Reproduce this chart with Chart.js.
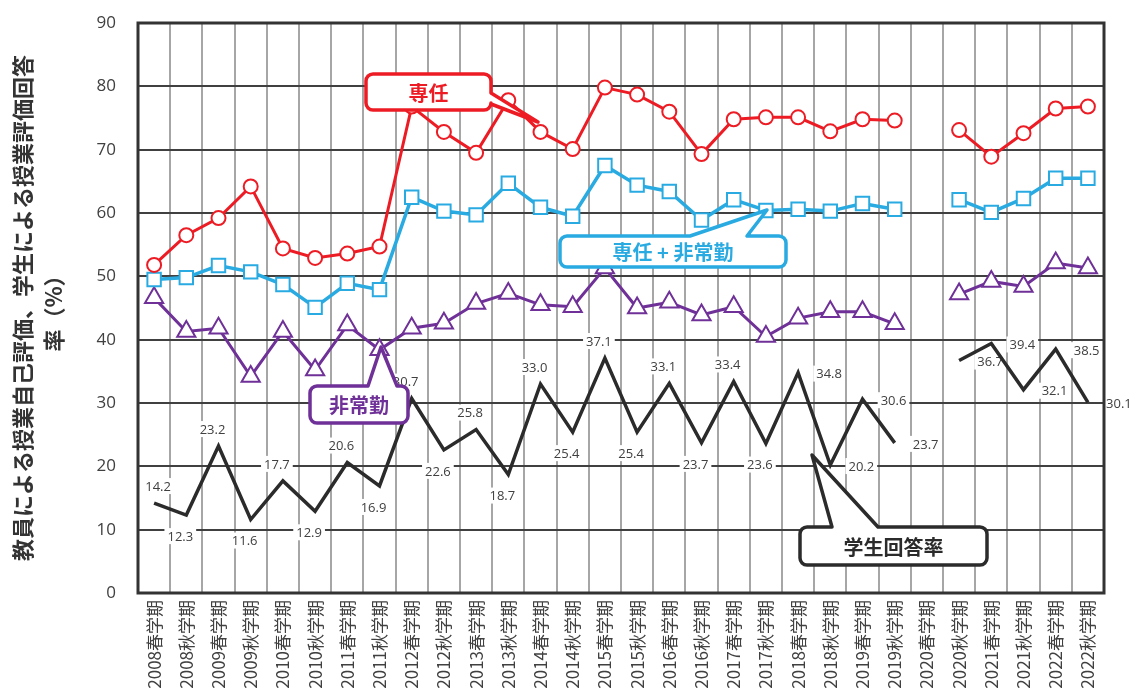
<!DOCTYPE html>
<html>
<head>
<meta charset="utf-8">
<script src="https://cdn.jsdelivr.net/npm/chart.js@4.4.1/dist/chart.umd.min.js"></script>
<style>
  html, body { margin: 0; padding: 0; background: #fff; }
  #wrap { width: 1133px; height: 697px; }
</style>
</head>
<body>
<div id="wrap"><canvas id="chart"></canvas></div>
<script>
const semesters = [
  "2008春学期", "2008秋学期", "2009春学期", "2009秋学期", "2010春学期", "2010秋学期",
  "2011春学期", "2011秋学期", "2012春学期", "2012秋学期", "2013春学期", "2013秋学期",
  "2014春学期", "2014秋学期", "2015春学期", "2015秋学期", "2016春学期", "2016秋学期",
  "2017春学期", "2017秋学期", "2018春学期", "2018秋学期", "2019春学期", "2019秋学期",
  "2020春学期", "2020秋学期", "2021春学期", "2021秋学期", "2022春学期", "2022秋学期"
];

// 専任
const fullTime = [51.8, 56.5, 59.2, 64.2, 54.4, 52.9, 53.6, 54.7, 76.8, 72.8, 69.5, 77.8,
  72.8, 70.1, 79.8, 78.7, 76.0, 69.3, 74.8, 75.1, 75.1, 72.9, 74.8, 74.6,
  null, 73.1, 68.9, 72.6, 76.5, 76.8];

// 専任 + 非常勤
const allTeachers = [49.5, 49.8, 51.7, 50.7, 48.7, 45.1, 48.9, 47.9, 62.5, 60.3, 59.7, 64.7,
  60.9, 59.5, 67.5, 64.4, 63.4, 58.9, 62.1, 60.4, 60.6, 60.3, 61.5, 60.6,
  null, 62.1, 60.1, 62.3, 65.5, 65.5];

// 非常勤
const partTime = [46.6, 41.3, 41.8, 34.2, 41.3, 35.2, 42.3, 38.4, 41.8, 42.6, 45.7, 47.3,
  45.5, 45.2, 51.3, 45.0, 45.9, 43.9, 45.2, 40.5, 43.4, 44.4, 44.4, 42.5,
  null, 47.2, 49.2, 48.4, 52.1, 51.3];

// 学生回答率
const studentRate = [14.2, 12.3, 23.2, 11.6, 17.7, 12.9, 20.6, 16.9, 30.7, 22.6, 25.8, 18.7,
  33.0, 25.4, 37.1, 25.4, 33.1, 23.7, 33.4, 23.6, 34.8, 20.2, 30.6, 23.7,
  null, 36.7, 39.4, 32.1, 38.5, 30.1];

const yTicks = [0, 10, 20, 30, 40, 50, 60, 70, 80, 90];

const RED = "#ed1c24";
const BLUE = "#29abe2";
const PURPLE = "#6f3198";
const BLACK = "#2b2b2b";
const JP = '"Noto Sans CJK JP", "Noto Sans", sans-serif';

// callout boxes, in reference pixel space (mapped onto the chart area when drawn)
const callouts = [
  { text: "専任", color: RED, box: [366, 74, 491, 110], side: "right", base: [93, 104], tip: [538, 122] },
  { text: "専任 + 非常勤", color: BLUE, box: [560, 236, 786, 267], side: "top", base: [690, 747], tip: [767, 210] },
  { text: "非常勤", color: PURPLE, box: [310, 386, 408, 423], side: "top", base: [368, 397], tip: [381, 347] },
  { text: "学生回答率", color: BLACK, box: [800, 527, 987, 565], side: "top", base: [832, 878], tip: [812, 455] }
];

const valueLabels = {
  id: "valueLabels",
  beforeDatasetsDraw(chart) {
    const meta = chart.getDatasetMeta(3);
    const ctx = chart.ctx;
    ctx.save();
    ctx.font = '13px "Open Sans", sans-serif';
    ctx.textAlign = "center";
    ctx.textBaseline = "middle";
    meta.data.forEach((pt, i) => {
      const v = studentRate[i];
      if (v == null) return;
      let dx = i === 0 ? 4 : -6, dy;
      if (i >= 20) { dx = 31; dy = 1; }
      else {
        const next = studentRate[i + 1];
        dy = (next == null || v > next) ? -17 : 21;
      }
      const txt = v.toFixed(1);
      const w = ctx.measureText(txt).width + 6;
      const x = pt.x + dx, y = pt.y + dy;
      ctx.fillStyle = "#fff";
      ctx.fillRect(x - w / 2, y - 8, w, 16);
      ctx.fillStyle = "#404040";
      ctx.fillText(txt, x, y + 1);
    });
    ctx.restore();
  }
};

function calloutPath(ctx, x0, y0, x1, y1, r, side, b1, b2, tx, ty) {
  ctx.beginPath();
  ctx.moveTo(x0 + r, y0);
  if (side === "top") { ctx.lineTo(b1, y0); ctx.lineTo(tx, ty); ctx.lineTo(b2, y0); }
  ctx.lineTo(x1 - r, y0);
  ctx.arcTo(x1, y0, x1, y0 + r, r);
  if (side === "right") { ctx.lineTo(x1, b1); ctx.lineTo(tx, ty); ctx.lineTo(x1, b2); }
  ctx.lineTo(x1, y1 - r);
  ctx.arcTo(x1, y1, x1 - r, y1, r);
  ctx.lineTo(x0 + r, y1);
  ctx.arcTo(x0, y1, x0, y1 - r, r);
  ctx.lineTo(x0, y0 + r);
  ctx.arcTo(x0, y0, x0 + r, y0, r);
  ctx.closePath();
}

const frameAndCallouts = {
  id: "frameAndCallouts",
  afterDatasetsDraw(chart) {
    const { ctx, chartArea: a } = chart;
    const X = px => a.left + (px - 138) * a.width / 966;
    const Y = py => a.top + (py - 23) * a.height / 570;
    ctx.save();
    ctx.strokeStyle = "#333";
    ctx.lineWidth = 3;
    ctx.strokeRect(a.left, a.top, a.width, a.height);

    ctx.lineJoin = "round";
    callouts.forEach(c => {
      const [x0, y0, x1, y1] = c.box;
      const b = c.side === "top" ? c.base.map(X) : c.base.map(Y);
      calloutPath(ctx, X(x0), Y(y0), X(x1), Y(y1), 7, c.side, b[0], b[1], X(c.tip[0]), Y(c.tip[1]));
      ctx.fillStyle = "#fff";
      ctx.fill();
      ctx.strokeStyle = c.color;
      ctx.lineWidth = 3.5;
      ctx.stroke();
      ctx.fillStyle = c.color;
      ctx.font = "bold 20px " + JP;
      ctx.textAlign = "center";
      ctx.textBaseline = "middle";
      ctx.fillText(c.text, (X(x0) + X(x1)) / 2, (Y(y0) + Y(y1)) / 2 + 1);
    });
    ctx.restore();
  }
};

new Chart(document.getElementById("chart"), {
  type: "line",
  data: {
    labels: semesters,
    datasets: [
      {
        label: "専任",
        data: fullTime,
        borderColor: RED,
        borderWidth: 3,
        pointStyle: "circle",
        pointRadius: 7,
        pointBorderWidth: 2,
        pointBorderColor: RED,
        pointBackgroundColor: "#fff"
      },
      {
        label: "専任 + 非常勤",
        data: allTeachers,
        borderColor: BLUE,
        borderWidth: 3.5,
        pointStyle: "rect",
        pointRadius: 9.5,
        pointBorderWidth: 2,
        pointBorderColor: BLUE,
        pointBackgroundColor: "#fff"
      },
      {
        label: "非常勤",
        data: partTime,
        borderColor: PURPLE,
        borderWidth: 3,
        pointStyle: "triangle",
        pointRadius: 10.5,
        pointBorderWidth: 2,
        pointBorderColor: PURPLE,
        pointBackgroundColor: "#fff"
      },
      {
        label: "学生回答率",
        data: studentRate,
        borderColor: BLACK,
        borderWidth: 3.5,
        pointRadius: 0
      }
    ]
  },
  options: {
    responsive: true,
    maintainAspectRatio: false,
    animation: false,
    spanGaps: false,
    layout: { padding: { top: 23, right: 29, left: 0, bottom: 0 } },
    plugins: {
      legend: { display: false },
      tooltip: { enabled: false }
    },
    scales: {
      x: {
        offset: true,
        grid: { offset: true, color: "#a6a6a6", lineWidth: 2, drawTicks: false },
        border: { display: false },
        ticks: {
          autoSkip: false,
          minRotation: 90,
          maxRotation: 90,
          padding: 7,
          color: "#404040",
          font: { family: JP, size: 17 }
        },
        afterFit: s => { s.height = 104; s.paddingLeft = 0; s.paddingRight = 0; }
      },
      y: {
        min: 0,
        max: 90,
        afterBuildTicks: s => { s.ticks = yTicks.map(v => ({ value: v })); },
        grid: { color: "#404040", lineWidth: 2, drawTicks: false },
        border: { display: false },
        ticks: {
          padding: 22,
          color: "#404040",
          font: { family: '"Open Sans", sans-serif', size: 17 }
        },
        title: {
          display: true,
          text: ["教員による授業自己評価、学生による授業評価回答", "率（%）"],
          color: "#333",
          font: { family: JP, size: 22, weight: "bold", lineHeight: 1.4 },
          padding: { top: 7, bottom: 0 }
        },
        afterFit: s => { s.width = 138; s.paddingTop = 0; s.paddingBottom = 0; }
      }
    }
  },
  plugins: [valueLabels, frameAndCallouts]
});
</script>
</body>
</html>
